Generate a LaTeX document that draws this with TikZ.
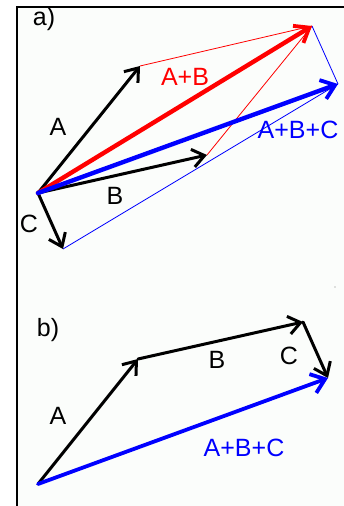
\documentclass[tikz,border=0pt]{standalone}
\usepackage{fontspec}
\setmainfont{Liberation Sans}
\usetikzlibrary{arrows.meta}
\definecolor{bg}{RGB}{251,253,251}
\definecolor{vred}{RGB}{255,0,0}
\definecolor{vblue}{RGB}{0,0,255}
\begin{document}
\begin{tikzpicture}[x=1pt,y=-1pt,
  lab/.style={inner sep=0pt,font=\fontsize{25}{28}\selectfont},
  vec/.style={line width=3pt,line cap=round,-{Straight Barb[length=12pt,width=18pt,line width=3pt]}},
  thickvec/.style={line width=4.4pt,line cap=round,-{Straight Barb[length=13pt,width=20pt,line width=3.8pt]}},
  thin/.style={line width=0.8pt}]
\useasboundingbox (0,0) rectangle (344,506);
\fill[white] (0,0) rectangle (344,506);
\fill[bg] (17,6) rectangle (344,506);
\draw[line width=2pt] (17,506) -- (17,6.5) -- (344,6.5);
% panel a points
\coordinate (O) at (38,193);
\coordinate (Ta) at (140,66);
\coordinate (Tb) at (207,155);
\coordinate (Tab) at (312,26);
\coordinate (Tc) at (63,249);
\coordinate (Tabc) at (338,84);
% thin construction lines
\draw[thin,vred] (Ta) -- (Tab);
\draw[thin,vred] (Tb) -- (Tab);
\draw[thin,vblue] (Tab) -- (Tabc);
\draw[thin,vblue] (Tc) -- (Tabc);
% vectors
\draw[vec] (O) -- (Ta);
\draw[vec] (O) -- (Tb);
\draw[vec] (O) -- (Tc);
\draw[thickvec,vred] (O) -- (Tab);
\draw[thickvec,vblue] (O) -- (Tabc);
% labels a
\node[lab] (la) at (44,19) {a)};
\node[lab] (lA) at (58,127) {A};
\node[lab,vred] (lAB) at (185,77) {A+B};
\node[lab] (lB) at (115,196) {B};
\node[lab] (lC) at (29,224) {C};
\node[lab,vblue] (lABC) at (298,130) {A+B+C};
% panel b
\coordinate (P) at (38,484);
\coordinate (Pa) at (138,359);
\coordinate (Pb) at (303,322);
\coordinate (Pc) at (328,378);
\draw[vec] (P) -- (Pa);
\draw[vec] (Pa) -- (Pb);
\draw[vec] (Pb) -- (Pc);
\draw[thickvec,line width=3.8pt,vblue] (P) -- (Pc);
\node[lab] (lb) at (48,330) {b)};
\node[lab] (lA2) at (58,416) {A};
\node[lab] (lB2) at (217,360) {B};
\node[lab] (lC2) at (289,356) {C};
\node[lab,vblue] (lABC2) at (244,448) {A+B+C};
\fill[gray] (335,287) circle (0.6);
\end{tikzpicture}
\end{document}
